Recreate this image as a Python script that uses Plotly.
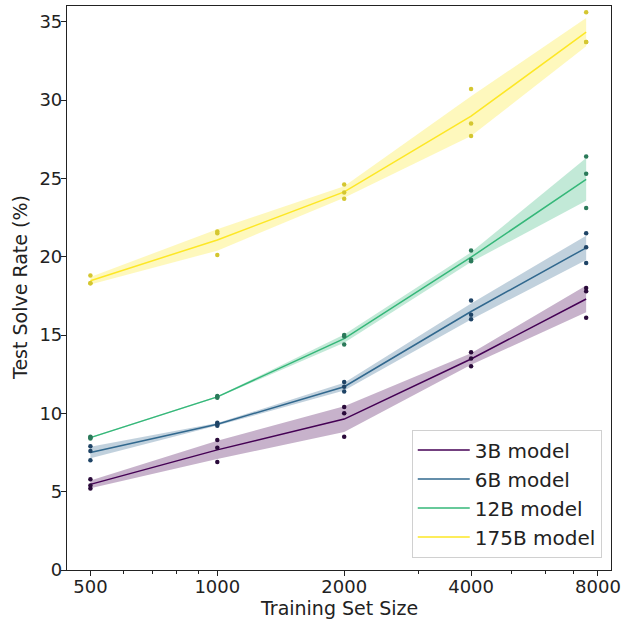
import numpy as np
import plotly.graph_objects as go

# Training set sizes (x) and per-run solve rates (%) for each model
train_sizes = [500, 1000, 2000, 4000, 7500]
models = ["3B model", "6B model", "12B model", "175B model"]

runs_3b = [[5.8, 5.4, 5.2], [8.3, 7.8, 6.9], [10.4, 10.0, 8.5], [13.9, 13.5, 13.0], [18.0, 17.8, 16.1]]
runs_6b = [[7.9, 7.6, 7.0], [9.4, 9.3, 9.2], [12.0, 11.7, 11.4], [17.2, 16.3, 16.0], [21.5, 20.6, 19.6]]
runs_12b = [[8.5, 8.45, 8.4], [11.1, 11.0, 11.05], [15.0, 14.9, 14.4], [20.4, 19.7, 19.8], [26.4, 25.3, 23.1]]
runs_175b = [[18.8, 18.3, 18.3], [21.6, 21.5, 20.1], [24.6, 24.1, 23.7], [30.7, 28.5, 27.7], [35.6, 33.7, 33.7]]
all_runs = [runs_3b, runs_6b, runs_12b, runs_175b]

x_ticks = [500, 1000, 2000, 4000, 8000]
x_minor = [600, 700, 800, 900, 3000, 5000, 6000, 7000]
y_ticks = [0, 5, 10, 15, 20, 25, 30, 35]

line_colors = ["#440154", "#31688e", "#35b779", "#fde725"]
band_colors = ["rgba(68,1,84,0.3)", "rgba(49,104,142,0.3)", "rgba(53,183,121,0.3)", "rgba(253,231,37,0.3)"]
dot_colors = ["#2a0a3a", "#1f4466", "#2b7a5a", "#d4c630"]

fig = go.Figure()
for name, runs, lc, bc, dc in zip(models, all_runs, line_colors, band_colors, dot_colors):
    arr = np.array(runs)
    mean = arr.mean(axis=1)
    sd = arr.std(axis=1)
    fig.add_trace(go.Scatter(x=train_sizes, y=mean + sd, mode="lines", line=dict(width=0, color=bc),
                             showlegend=False, hoverinfo="skip"))
    fig.add_trace(go.Scatter(x=train_sizes, y=mean - sd, mode="lines", line=dict(width=0, color=bc),
                             fill="tonexty", fillcolor=bc, showlegend=False, hoverinfo="skip"))
    fig.add_trace(go.Scatter(x=train_sizes, y=mean, mode="lines", name=name,
                             line=dict(color=lc, width=1.5)))
    xs = [x for x, r in zip(train_sizes, runs) for _ in r]
    ys = [v for r in runs for v in r]
    fig.add_trace(go.Scatter(x=xs, y=ys, mode="markers", marker=dict(color=dc, size=4.5),
                             showlegend=False))

x_range = [np.log10(440), np.log10(8590)]
y_range = [0, 36]
axis_common = dict(showline=True, linecolor="#222", linewidth=1.2, mirror=True,
                   ticks="", showgrid=False, zeroline=False,
                   tickfont=dict(size=18, color="#222"))

# main axes carry the labels; tick marks are drawn by label-less overlay axes
fig.update_xaxes(type="log", range=x_range, tickvals=x_ticks,
                 ticktext=[str(v) for v in x_ticks], **axis_common)
fig.update_yaxes(range=y_range, tickvals=y_ticks, **axis_common)

mark_axis = dict(showticklabels=False, showline=False, showgrid=False, zeroline=False,
                 ticks="outside", tickcolor="#222")
fig.update_layout(
    xaxis2=dict(type="log", range=x_range, overlaying="x", side="bottom", anchor="y",
                tickvals=x_minor, ticklen=3, **mark_axis),
    xaxis3=dict(type="log", range=x_range, overlaying="x", side="bottom", anchor="y",
                tickvals=x_ticks, ticklen=5, **mark_axis),
    yaxis2=dict(range=y_range, overlaying="y", side="left", anchor="x",
                tickvals=y_ticks, ticklen=5, **mark_axis),
    width=627, height=622,
    margin=dict(l=67, r=16, t=6, b=52, autoexpand=False),
    plot_bgcolor="white", paper_bgcolor="white",
    font=dict(family="DejaVu Sans", color="#222"),
    legend=dict(x=0.983, y=0.022, xanchor="right", yanchor="bottom", traceorder="normal",
                bgcolor="rgba(255,255,255,0.85)", bordercolor="#d0d0d0", borderwidth=1,
                font=dict(size=20, color="#222"), tracegroupgap=0, itemwidth=52),
    annotations=[
        dict(text="Training Set Size", xref="paper", yref="paper", x=0.5, y=(570 - 608) / 564,
             xanchor="center", yanchor="middle", showarrow=False, font=dict(size=19, color="#222")),
        dict(text="Test Solve Rate (%)", xref="paper", yref="paper", x=(20 - 67) / 544, y=0.5,
             xanchor="center", yanchor="middle", textangle=-90, showarrow=False,
             font=dict(size=19, color="#222")),
    ],
)
# invisible traces to activate the tick-mark overlay axes
fig.add_trace(go.Scatter(x=[x_ticks[0]], y=[None], xaxis="x2", showlegend=False, hoverinfo="skip"))
fig.add_trace(go.Scatter(x=[x_ticks[0]], y=[None], xaxis="x3", showlegend=False, hoverinfo="skip"))
fig.add_trace(go.Scatter(x=[x_ticks[0]], y=[None], yaxis="y2", showlegend=False, hoverinfo="skip"))

fig.write_html("out.html", config={"displayModeBar": False},
               post_script="document.body.style.margin='0';document.body.style.padding='0';")
